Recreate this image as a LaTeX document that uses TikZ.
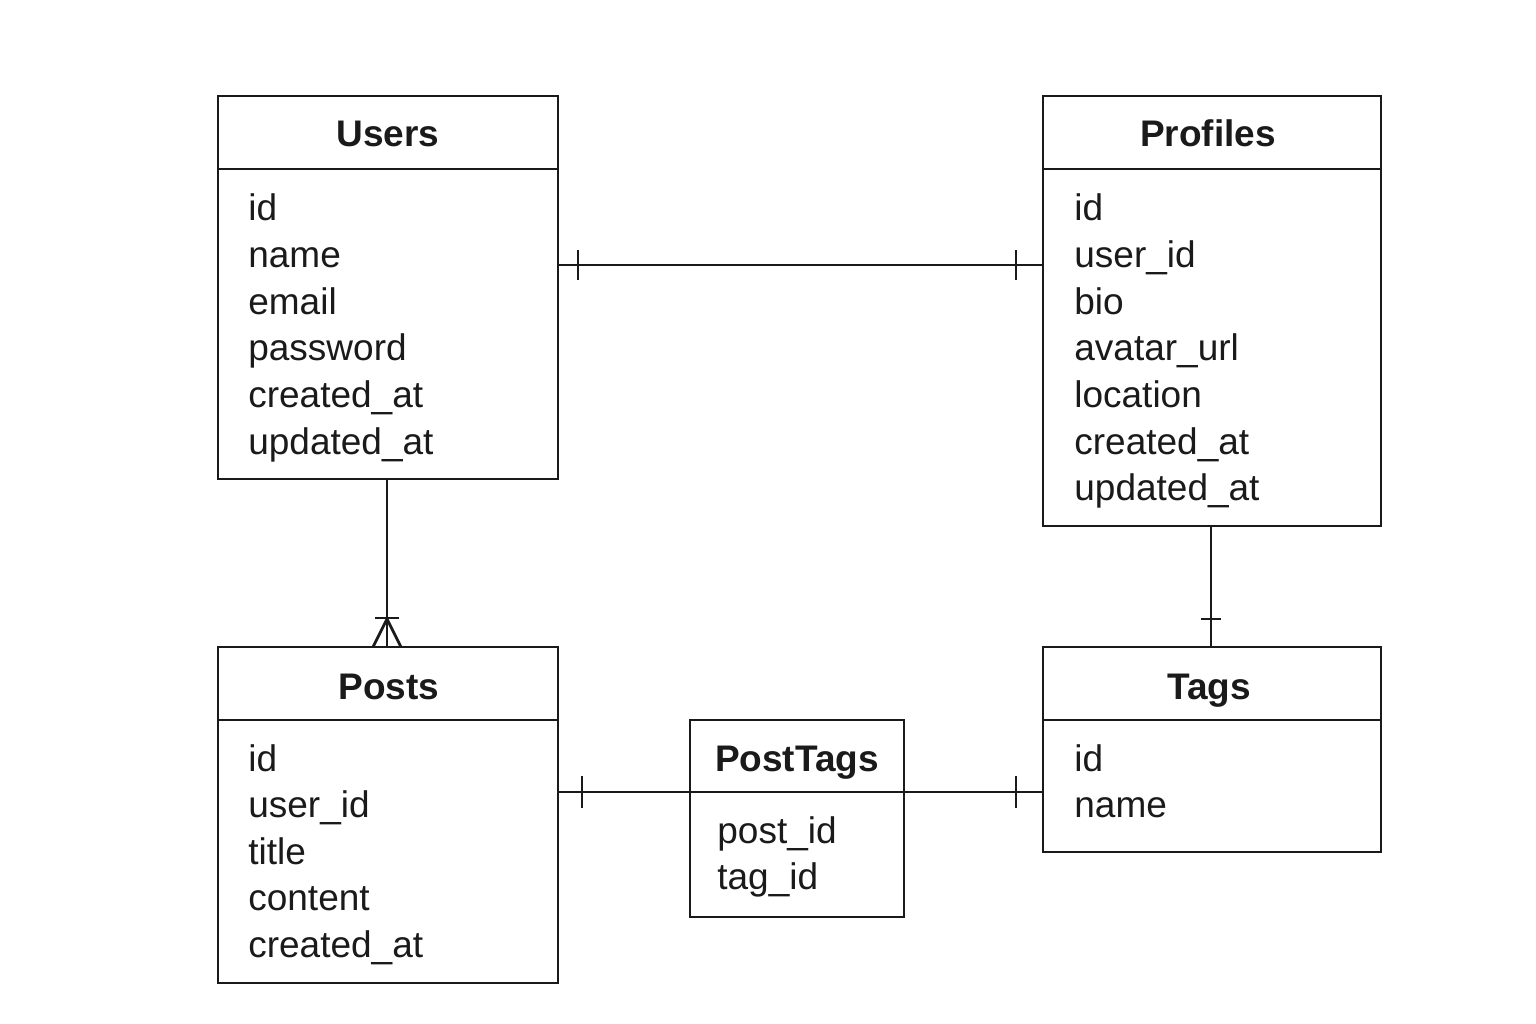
\documentclass[tikz,border=0pt]{standalone}
\usepackage{fontspec}
\setmainfont{Liberation Sans}
\definecolor{ink}{HTML}{1A1A1A}
\begin{document}
\begin{tikzpicture}[x=1pt,y=-1pt,line width=2.7pt,color=ink,
  tbl/.style={draw,line width=2.7pt,inner sep=0pt,outer sep=0pt},
  fld/.style={anchor=base west,inner sep=0pt,font=\fontsize{37}{44}\selectfont},
  ttl/.style={anchor=base,inner sep=0pt,font=\fontsize{37}{44}\selectfont\bfseries}]
\useasboundingbox (0,0) rectangle (1536,1024);
% boxes
\node[tbl,minimum width=340pt,minimum height=383pt] (users) at (388,287.5) {};
\node[tbl,minimum width=338pt,minimum height=430pt] (profiles) at (1212,311) {};
\node[tbl,minimum width=340pt,minimum height=336pt] (posts) at (388,815) {};
\node[tbl,minimum width=338pt,minimum height=205pt] (tags) at (1212,749.5) {};
\node[tbl,minimum width=214pt,minimum height=197pt] (posttags) at (797,818.5) {};
% header lines
\draw (users.north west) ++(0,73) -- ++(340,0);
\draw (profiles.north west) ++(0,73) -- ++(338,0);
\draw (posts.north west) ++(0,73) -- ++(340,0);
\draw (tags.north west) ++(0,73) -- ++(338,0);
\draw (posttags.north west) ++(0,72) -- ++(214,0);
% titles
\node[ttl] (tu) at (388,147) {Users};
\node[ttl] (tp) at (1208,147) {Profiles};
\node[ttl] (tpo) at (389,699) {Posts};
\node[ttl] (tt) at (1209,699) {Tags};
\node[ttl] (tpt) at (797,771) {PostTags};
% fields
\foreach \t [count=\i] in {id,name,email,password,created\_at,updated\_at}
  \node[fld] (u\i) at (247,221+46.6*\i-46.6) {\t};
\foreach \t [count=\i] in {id,user\_id,bio,avatar\_url,location,created\_at,updated\_at}
  \node[fld] (p\i) at (1073,221+46.6*\i-46.6) {\t};
\foreach \t [count=\i] in {id,user\_id,title,content,created\_at}
  \node[fld] (o\i) at (247,771+46.6*\i-46.6) {\t};
\foreach \t [count=\i] in {id,name}
  \node[fld] (g\i) at (1073,771+46.6*\i-46.6) {\t};
\foreach \t [count=\i] in {post\_id,tag\_id}
  \node[fld] (k\i) at (716,843+46.6*\i-46.6) {\t};
% connectors
\draw (users.east |- 0,265) -- (profiles.west |- 0,265);
\draw (users.east |- 0,265) ++(20,-15) -- ++(0,30);
\draw (profiles.west |- 0,265) ++(-27,-15) -- ++(0,30);
\draw (users.south -| 387,0) -- (posts.north -| 387,0);
\draw (posts.north -| 387,0) ++(-12,-29) -- ++(24,0);
\draw (posts.north -| 387,0) ++(-14,0) -- ++(14,-28) -- ++(14,28);
\draw (profiles.south -| 1211,0) -- (tags.north -| 1211,0);
\draw (tags.north -| 1211,0) ++(-10,-28) -- ++(20,0);
\draw (posts.east |- 0,792) -- (posttags.west |- 0,792);
\draw (posts.east |- 0,792) ++(24,-16) -- ++(0,32);
\draw (posttags.east |- 0,792) -- (tags.west |- 0,792);
\draw (tags.west |- 0,792) ++(-27,-16) -- ++(0,32);
\end{tikzpicture}
\end{document}
